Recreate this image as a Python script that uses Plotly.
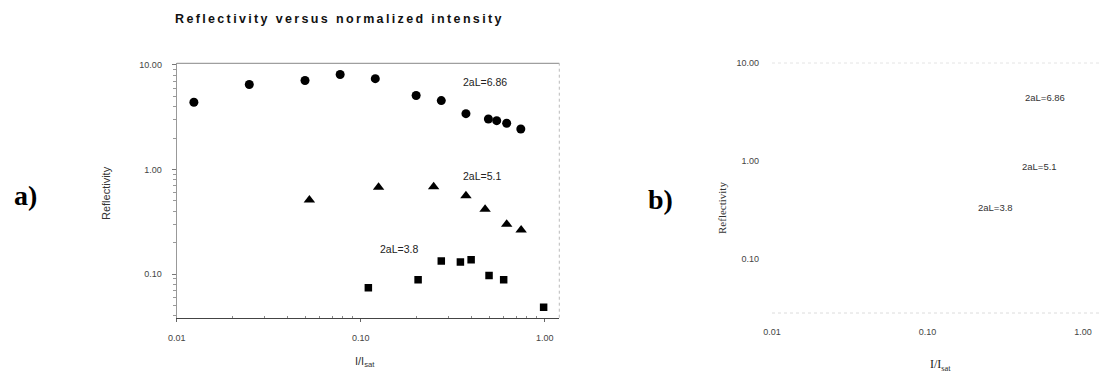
import plotly.graph_objects as go

# ---- data (panel a) ----
circ_x = [0.0124, 0.0248, 0.0498, 0.0773, 0.120, 0.200, 0.274, 0.373, 0.494, 0.548, 0.621, 0.741]
circ_y = [4.4, 6.5, 7.1, 8.1, 7.4, 5.1, 4.56, 3.42, 3.04, 2.93, 2.77, 2.44]
tri_x = [0.0526, 0.125, 0.249, 0.373, 0.474, 0.621, 0.744]
tri_y = [0.51, 0.676, 0.684, 0.561, 0.416, 0.30, 0.264]
sq_x = [0.110, 0.205, 0.274, 0.348, 0.398, 0.498, 0.598, 0.986]
sq_y = [0.074, 0.088, 0.133, 0.130, 0.137, 0.097, 0.088, 0.048]

y_tickvals = [0.1, 1, 10]
y_ticktext = ["0.10", "1.00", "10.00"]
x_tickvals = [0.01, 0.1, 1]
x_ticktext = ["0.01", "0.10", "1.00"]
series_labels = ["2aL=6.86", "2aL=5.1", "2aL=3.8"]
title_text = "Reflectivity versus normalized intensity"
minor_vals = [k * 10.0 ** e for e in (-2, -1, 0) for k in range(2, 10)]

# the page places the figure 8px in from the window's top-left corner
OFF = 8
W, H = 1120 - OFF, 376 - OFF
def px(x):
    return (x - OFF) / W
def py(y):
    return 1 - (y - OFF) / H

fig = go.Figure()
fig.add_trace(go.Scatter(x=circ_x, y=circ_y, mode="markers", xaxis="x", yaxis="y",
                         marker=dict(symbol="circle", size=9, color="black"), showlegend=False))
fig.add_trace(go.Scatter(x=tri_x, y=tri_y, mode="markers", xaxis="x", yaxis="y",
                         marker=dict(symbol="triangle-up", size=10, color="black"), showlegend=False))
fig.add_trace(go.Scatter(x=sq_x, y=sq_y, mode="markers", xaxis="x", yaxis="y",
                         marker=dict(symbol="square", size=7.5, color="black"), showlegend=False))
# empty panel b
fig.add_trace(go.Scatter(x=[], y=[], mode="markers", xaxis="x2", yaxis="y2", showlegend=False))

tickfont = dict(family="Liberation Sans, Arial", size=9, color="#444")

fig.update_layout(
    width=W, height=H, autosize=False,
    margin=dict(l=0, r=0, t=0, b=0, pad=0),
    paper_bgcolor="white", plot_bgcolor="white",
    xaxis=dict(type="log", range=[-2, 0.079], domain=[px(176.7), px(559.3)], anchor="y",
               tickvals=x_tickvals, ticktext=x_ticktext, tickfont=tickfont, automargin=False,
               showline=True, linecolor="#444", linewidth=1, mirror=False,
               ticks="outside", ticklen=3, tickcolor="#666", showgrid=False, zeroline=False,
               ticklabelstandoff=8,
               minor=dict(tickvals=minor_vals, ticks="inside", ticklen=2, tickcolor="#888", showgrid=False)),
    yaxis=dict(type="log", range=[-1.418, 1.016], domain=[py(317.7), py(63.3)], anchor="x",
               tickvals=y_tickvals, ticktext=y_ticktext, tickfont=tickfont, automargin=False,
               showline=True, linecolor="#999", linewidth=1, mirror=False,
               ticks="outside", ticklen=4, tickcolor="#777", showgrid=False, zeroline=False,
               ticklabelstandoff=8,
               minor=dict(tickvals=minor_vals, ticks="outside", ticklen=3, tickcolor="#999", showgrid=False)),
    xaxis2=dict(type="log", range=[-2, 0.109], domain=[px(772), px(1100)], anchor="y2",
                tickvals=x_tickvals, ticktext=x_ticktext, tickfont=tickfont, automargin=False,
                showline=False, ticks="", showgrid=False, zeroline=False, ticklabelstandoff=12),
    yaxis2=dict(type="log", range=[-1.551, 1.0], domain=[py(313), py(63)], anchor="x2",
                tickvals=y_tickvals, ticktext=y_ticktext, tickfont=tickfont, automargin=False,
                showline=False, ticks="", showgrid=False, zeroline=False, ticklabelstandoff=12),
)

# borders
fig.add_shape(type="line", xref="x domain", yref="y domain", x0=0, x1=1, y0=1, y1=1,
              line=dict(color="#888", width=1))
fig.add_shape(type="line", xref="x domain", yref="y domain", x0=1, x1=1, y0=0, y1=1,
              line=dict(color="#bbb", width=1, dash="dot"))
fig.add_shape(type="line", xref="x2 domain", yref="y2 domain", x0=0, x1=1, y0=1, y1=1,
              line=dict(color="#e4e4e4", width=1, dash="dot"))
fig.add_shape(type="line", xref="x2 domain", yref="y2 domain", x0=0, x1=1, y0=0, y1=0,
              line=dict(color="#dcdcdc", width=1, dash="dot"))

def note(x, y, text, font, angle=0):
    return dict(x=px(x), y=py(y), xref="paper", yref="paper", showarrow=False, text=text,
                xanchor="center", yanchor="middle", textangle=angle, font=font)

ann = []
ann.append(note(339, 19, title_text,
                dict(family="Liberation Sans, Arial", size=12.5, color="#111", weight="bold")))
ann.append(note(25, 195, "<b>a)</b>", dict(family="Liberation Serif, Times New Roman", size=28, color="black")))
ann.append(note(660, 199, "<b>b)</b>", dict(family="Liberation Serif, Times New Roman", size=28, color="black")))
ann.append(note(106, 193, "Reflectivity", dict(family="Liberation Sans, Arial", size=11, color="#333"), -90))
ann.append(note(722, 208, "Reflectivity", dict(family="Liberation Serif, Times New Roman", size=11, color="#333"), -90))
ann.append(note(365, 362, "I/I<sub>sat</sub>", dict(family="Liberation Sans, Arial", size=11, color="#333")))
ann.append(note(940, 365, "I/I<sub>sat</sub>", dict(family="Liberation Serif, Times New Roman", size=12, color="#222")))
# series labels panel a
for (xx, yy), t in zip([(485, 82), (482, 176), (399, 249)], series_labels):
    ann.append(note(xx, yy, t, dict(family="Liberation Sans, Arial", size=10.5, color="#222")))
# series labels panel b
for (xx, yy), t in zip([(1045, 97), (1039, 166), (995, 207)], series_labels):
    ann.append(note(xx, yy, t, dict(family="Liberation Sans, Arial", size=9.5, color="#333")))
fig.update_layout(annotations=ann)

# widen the title's letter spacing as in the reference
post = """
(function(){
  var LS = '2.35px';
  var st = document.createElement('style');
  st.textContent = 'g.annotation[data-index="0"] text.annotation-text { letter-spacing: ' + LS + ' !important; }';
  document.head.appendChild(st);
  function spaceTitle(){
    document.querySelectorAll('text.annotation-text').forEach(function(e){
      if (e.textContent.indexOf('Reflectivity versus') === 0) {
        e.style.setProperty('letter-spacing', LS, 'important');
      }
    });
  }
  spaceTitle();
  [0, 20, 100, 300, 800].forEach(function(t){ setTimeout(spaceTitle, t); });
})();
"""
fig.write_html("out.html", post_script=post)
